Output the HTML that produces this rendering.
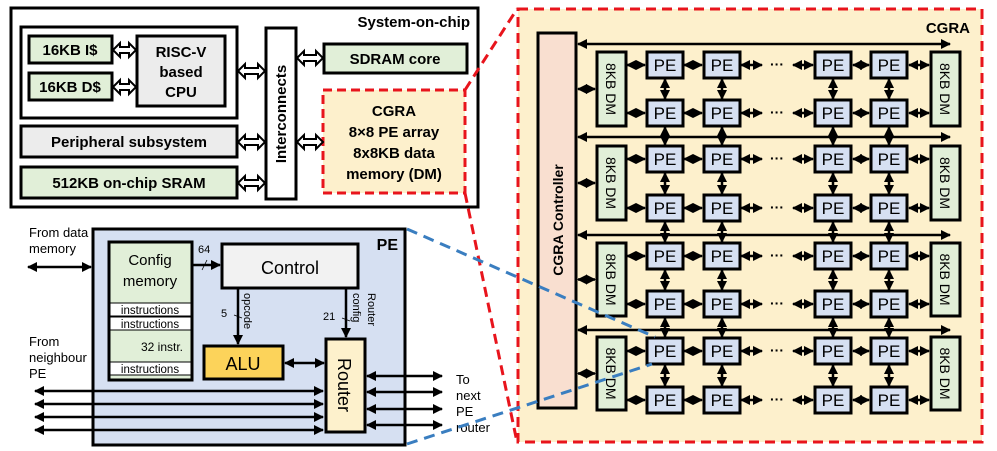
<!DOCTYPE html>
<html><head><meta charset="utf-8"><style>
html,body{margin:0;padding:0;background:#fff;}
svg{display:block;font-family:"Liberation Sans",Arial,sans-serif;}
</style></head><body>
<svg id="s" width="997" height="451" viewBox="0 0 997 451" xmlns="http://www.w3.org/2000/svg">
<defs>
<marker id="a" viewBox="0 0 10 10" refX="9" refY="5" markerWidth="4" markerHeight="4" orient="auto-start-reverse"><path d="M0,0L10,5L0,10z" fill="#000"/></marker>
<marker id="b" viewBox="0 0 10 10" refX="9" refY="5" markerWidth="4" markerHeight="4" orient="auto-start-reverse"><path d="M0,0L10,5L0,10z" fill="#000"/></marker>
</defs>
<rect x="518" y="9" width="464" height="433" fill="#fdf0cc" stroke="#e8141c" stroke-width="3" stroke-dasharray="10,6"/>
<text x="970" y="33" font-size="15" font-weight="bold" text-anchor="end">CGRA</text>
<rect x="538" y="33" width="38" height="375" fill="#f9dfd0" stroke="#000" stroke-width="3"/>
<text transform="translate(563,220) rotate(-90)" font-size="14" font-weight="bold" text-anchor="middle">CGRA Controller</text>
<g id="grid"></g>

<rect x="11" y="8" width="467" height="199" fill="#fff" stroke="#000" stroke-width="3"/>
<text x="470" y="27" font-size="15" font-weight="bold" text-anchor="end">System-on-chip</text>
<rect x="21" y="27" width="216" height="91" fill="#fff" stroke="#000" stroke-width="3"/>
<rect x="29" y="36" width="83" height="27" fill="#e1efd8" stroke="#000" stroke-width="3"/>
<text x="70" y="55" font-size="15" font-weight="bold" text-anchor="middle">16KB I$</text>
<rect x="29" y="73" width="83" height="27" fill="#e1efd8" stroke="#000" stroke-width="3"/>
<text x="70" y="92" font-size="15" font-weight="bold" text-anchor="middle">16KB D$</text>
<rect x="137" y="36" width="88" height="70" fill="#ececec" stroke="#000" stroke-width="3"/>
<text x="181" y="57" font-size="15" font-weight="bold" text-anchor="middle">RISC-V</text>
<text x="181" y="77" font-size="15" font-weight="bold" text-anchor="middle">based</text>
<text x="181" y="97" font-size="15" font-weight="bold" text-anchor="middle">CPU</text>
<rect x="21" y="126" width="216" height="31" fill="#ececec" stroke="#000" stroke-width="3"/>
<text x="129" y="147" font-size="15" font-weight="bold" text-anchor="middle">Peripheral subsystem</text>
<rect x="21" y="167" width="216" height="31" fill="#e1efd8" stroke="#000" stroke-width="3"/>
<text x="129" y="188" font-size="15" font-weight="bold" text-anchor="middle">512KB on-chip SRAM</text>
<rect x="266" y="28" width="30" height="171" fill="#fff" stroke="#000" stroke-width="3"/>
<text transform="translate(286,114) rotate(-90)" font-size="15" font-weight="bold" text-anchor="middle">Interconnects</text>
<rect x="324" y="44" width="143" height="29" fill="#e1efd8" stroke="#000" stroke-width="3"/>
<text x="395" y="64" font-size="15" font-weight="bold" text-anchor="middle">SDRAM core</text>
<rect x="323" y="90" width="142" height="103" fill="#fdf0cc" stroke="#e8141c" stroke-width="3" stroke-dasharray="9,5"/>
<text x="394" y="116" font-size="15" font-weight="bold" text-anchor="middle">CGRA</text>
<text x="394" y="137" font-size="15" font-weight="bold" text-anchor="middle">8×8 PE array</text>
<text x="394" y="158" font-size="15" font-weight="bold" text-anchor="middle">8x8KB data</text>
<text x="394" y="179" font-size="15" font-weight="bold" text-anchor="middle">memory (DM)</text>
<g id="hol" fill="#fff" stroke="#000" stroke-width="2"></g>

<line x1="465" y1="90" x2="517" y2="9" stroke="#e8141c" stroke-width="3" stroke-dasharray="10,6"/>
<line x1="465" y1="193" x2="517" y2="442" stroke="#e8141c" stroke-width="3" stroke-dasharray="10,6"/>

<rect x="93" y="229" width="312" height="216" fill="#d6e0f2" stroke="#000" stroke-width="3"/>
<text x="398" y="250" font-size="16" font-weight="bold" text-anchor="end">PE</text>
<rect x="109" y="242" width="83" height="138" fill="#e1efd8" stroke="#000" stroke-width="3"/>
<text x="150" y="265" font-size="15" text-anchor="middle">Config</text>
<text x="150" y="286" font-size="15" text-anchor="middle">memory</text>
<rect x="110" y="303" width="81" height="13" fill="#fff" stroke="#000" stroke-width="1"/>
<text x="150" y="314" font-size="11.5" text-anchor="middle">instructions</text>
<rect x="110" y="317" width="81" height="13" fill="#fff" stroke="#000" stroke-width="1"/>
<text x="150" y="328" font-size="11.5" text-anchor="middle">instructions</text>
<text x="183" y="351" font-size="12" text-anchor="end">32 instr.</text>
<rect x="110" y="362" width="81" height="13" fill="#fff" stroke="#000" stroke-width="1"/>
<text x="150" y="373" font-size="11.5" text-anchor="middle">instructions</text>
<rect x="222" y="244" width="136" height="44" fill="#f2f2f2" stroke="#000" stroke-width="3"/>
<text x="290" y="274" font-size="18" text-anchor="middle">Control</text>
<rect x="204" y="346" width="79" height="33" fill="#fcd35a" stroke="#000" stroke-width="3"/>
<text x="243" y="370" font-size="18" text-anchor="middle">ALU</text>
<rect x="326" y="339" width="39" height="93" fill="#fdf1cc" stroke="#000" stroke-width="3"/>
<text transform="translate(338,385) rotate(90)" font-size="18" text-anchor="middle">Router</text>
<g stroke="#000" stroke-width="2.5" fill="none">
<line x1="192" y1="265" x2="220" y2="265" marker-end="url(#a)"/>
<line x1="238" y1="289" x2="238" y2="344" marker-end="url(#a)"/>
<line x1="346" y1="289" x2="346" y2="337" marker-end="url(#a)"/>
<line x1="285" y1="363" x2="324" y2="363" marker-start="url(#a)" marker-end="url(#a)"/>
<line x1="28" y1="267" x2="91" y2="267" marker-start="url(#a)" marker-end="url(#a)"/>
</g>
<g stroke="#000" stroke-width="0.8"><line x1="202" y1="270" x2="207" y2="260"/><line x1="234" y1="315" x2="242" y2="318"/><line x1="342" y1="318" x2="350" y2="321"/></g>
<text x="198" y="253" font-size="11">64</text>
<text x="221" y="317" font-size="11">5</text>
<text x="323" y="320" font-size="11">21</text>
<text transform="translate(244,293) rotate(90)" font-size="11">opcode</text>
<text transform="translate(353,293) rotate(90)" font-size="11">config</text>
<text transform="translate(368,293) rotate(90)" font-size="11">Router</text>
<g stroke="#000" stroke-width="2.5">
<line x1="35" y1="391" x2="323" y2="391" marker-start="url(#a)" marker-end="url(#a)"/>
<line x1="35" y1="404" x2="323" y2="404" marker-start="url(#a)" marker-end="url(#a)"/>
<line x1="35" y1="417" x2="323" y2="417" marker-start="url(#a)" marker-end="url(#a)"/>
<line x1="35" y1="430" x2="323" y2="430" marker-start="url(#a)" marker-end="url(#a)"/>
<line x1="367" y1="376" x2="442" y2="376" marker-start="url(#a)" marker-end="url(#a)"/>
<line x1="367" y1="392" x2="442" y2="392" marker-start="url(#a)" marker-end="url(#a)"/>
<line x1="367" y1="409" x2="442" y2="409" marker-start="url(#a)" marker-end="url(#a)"/>
<line x1="367" y1="425" x2="442" y2="425" marker-start="url(#a)" marker-end="url(#a)"/>
</g>
<g font-size="13">
<text x="29" y="237">From data</text><text x="29" y="253">memory</text>
<text x="29" y="346">From</text><text x="29" y="362">neighbour</text><text x="29" y="378">PE</text>
<text x="456" y="384">To</text><text x="456" y="400">next</text><text x="456" y="416">PE</text><text x="456" y="432">router</text>
</g>
<line x1="407" y1="229" x2="655" y2="337" stroke="#3a7ec0" stroke-width="3" stroke-dasharray="11,7"/>
<line x1="407" y1="444" x2="652" y2="364" stroke="#3a7ec0" stroke-width="3" stroke-dasharray="11,7"/>
</svg>
<script>
var NS="http://www.w3.org/2000/svg";
function el(p,t,a,txt){var e=document.createElementNS(NS,t);for(var k in a)e.setAttribute(k,a[k]);if(txt)e.textContent=txt;p.appendChild(e);return e;}
var h=document.getElementById('hol');
function hol(x1,x2,y){var s=[[x1,y],[x1+7,y-7],[x1+7,y-3],[x2-7,y-3],[x2-7,y-7],[x2,y],[x2-7,y+7],[x2-7,y+3],[x1+7,y+3],[x1+7,y+7]].map(function(p){return p.join(',')}).join(' ');el(h,'polygon',{points:s});}
hol(113,136,50);hol(113,136,87);hol(238,265,71);hol(238,265,142);hol(238,265,183);hol(297,323,58);hol(297,323,142);
var g=document.getElementById('grid');
var cols=[647,704,815,871],pw=36;
var rows=[52,100,146,195,243,291,338,387],ph=26;
var dms=[[52,126],[146,220],[243,316],[337,410]];
var ln={stroke:'#000','stroke-width':2.5,'marker-start':'url(#b)','marker-end':'url(#b)'};
function L(x1,y1,x2,y2){var a=Object.assign({x1:x1,y1:y1,x2:x2,y2:y2},ln);el(g,'line',a);}
[44,137,235,330].forEach(function(y){L(578,y,950,y);});
dms.forEach(function(d){var c=(d[0]+d[1])/2;L(578,c,595,c);
 [597,931].forEach(function(x){el(g,'rect',{x:x,y:d[0],width:29,height:d[1]-d[0],fill:'#e1efd8',stroke:'#000','stroke-width':3});
 el(g,'text',{transform:'translate('+(x+9)+','+c+') rotate(90)','font-size':14,'text-anchor':'middle'},'8KB DM');});});
rows.forEach(function(r,i){var c=r+ph/2;
 L(627,c,645,c);L(684,c,702,c);L(741,c,762,c);L(793,c,813,c);L(853,c,869,c);L(909,c,929,c);
 el(g,'text',{x:777,y:c+4,'font-size':14,'font-weight':'bold','text-anchor':'middle'},'···');
 if(i<7){cols.forEach(function(x){L(x+18,r+ph+1,x+18,rows[i+1]-1);});}
 cols.forEach(function(x){el(g,'rect',{x:x,y:r,width:pw,height:ph,fill:'#d6e0f2',stroke:'#000','stroke-width':3});
 el(g,'text',{x:x+18,y:c+6,'font-size':17,'text-anchor':'middle'},'PE');});
});
</script>
</body></html>
